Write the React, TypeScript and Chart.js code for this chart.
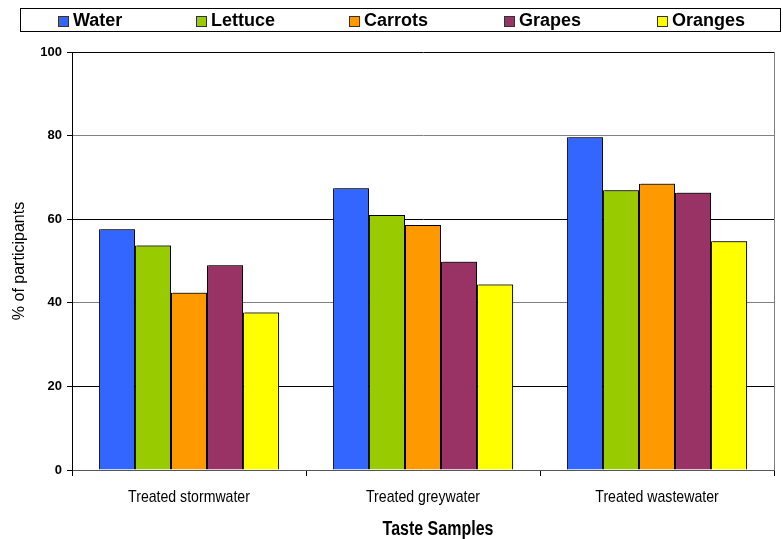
import React, { useEffect, useRef } from "react";
import { Chart, registerables } from "chart.js";

Chart.register(...registerables);

const categories = ["Treated stormwater", "Treated greywater", "Treated wastewater"];
const seriesNames = ["Water", "Lettuce", "Carrots", "Grapes", "Oranges"];
const water = [57.6, 67.4, 79.6];
const lettuce = [53.7, 61.0, 66.9];
const carrots = [42.4, 58.6, 68.5];
const grapes = [49.0, 49.8, 66.3];
const oranges = [37.7, 44.4, 54.7];
const colors = ["#3366FF", "#99CC00", "#FF9900", "#993366", "#FFFF00"];
const yTicks = [0, 20, 40, 60, 80, 100];
const xTitle = "Taste Samples";

const legendXs = [58, 196, 349, 504, 657];

function narrowText(ctx: any, text: string, x: number, y: number, font: string, sx: number) {
  ctx.save();
  ctx.font = font;
  ctx.textAlign = "center";
  ctx.textBaseline = "middle";
  ctx.fillStyle = "#000";
  ctx.translate(x, y);
  ctx.scale(sx, 1);
  ctx.fillText(text, 0, 0);
  ctx.restore();
}

const boxLegend = {
  id: "boxLegend",
  afterDraw(chart: any) {
    const ctx = chart.ctx;
    ctx.save();
    ctx.strokeStyle = "#000";
    ctx.lineWidth = 1;
    ctx.strokeRect(20.5, 8.5, 760, 23);
    ctx.font = "bold 18px 'Liberation Sans', Arial, sans-serif";
    ctx.textBaseline = "middle";
    ctx.textAlign = "left";
    chart.data.datasets.forEach((ds: any, i: number) => {
      const x = legendXs[i];
      ctx.fillStyle = ds.backgroundColor;
      ctx.fillRect(x, 16, 10, 10);
      ctx.strokeStyle = "#333";
      ctx.strokeRect(x + 0.5, 16.5, 10, 10);
      ctx.fillStyle = "#000";
      ctx.fillText(ds.label, x + 15, 21);
    });
    // right border of plot
    const a = chart.chartArea;
    ctx.strokeStyle = "#808080";
    ctx.beginPath();
    ctx.moveTo(a.right + 0.5, a.top);
    ctx.lineTo(a.right + 0.5, a.bottom);
    ctx.stroke();
    ctx.restore();

    // x category labels and axis title, condensed
    const xs = chart.scales.x;
    chart.data.labels.forEach((lab: string, i: number) => {
      narrowText(ctx, lab, xs.getPixelForValue(i), a.bottom + 27, "17px 'Liberation Sans', Arial, sans-serif", 0.83);
    });
    narrowText(ctx, xTitle, (a.left + a.right) / 2 + 15, a.bottom + 59, "bold 20px 'Liberation Sans', Arial, sans-serif", 0.8);
  },
  beforeDatasetsDraw(chart: any) {
    const ctx = chart.ctx;
    ctx.save();
    ctx.shadowColor = "rgba(0,0,0,0.5)";
    ctx.shadowOffsetX = 2;
    ctx.shadowOffsetY = -1;
    ctx.shadowBlur = 0;
  },
  afterDatasetsDraw(chart: any) {
    chart.ctx.restore();
  },
};

export default function App() {
  const ref = useRef<HTMLCanvasElement>(null);
  useEffect(() => {
    const values = [water, lettuce, carrots, grapes, oranges];
    const chart = new Chart(ref.current!, {
      type: "bar",
      data: {
        labels: categories,
        datasets: seriesNames.map((name, i) => ({
          label: name,
          data: values[i],
          backgroundColor: colors[i],
          borderColor: "#000",
          borderWidth: 1,
          categoryPercentage: 0.77,
          barPercentage: 1,
        })),
      },
      options: {
        animation: false,
        responsive: false,
        maintainAspectRatio: false,
        layout: { padding: { top: 52, right: 9, left: 0, bottom: 0 } },
        plugins: { legend: { display: false }, tooltip: { enabled: false } },
        scales: {
          x: {
            afterFit: (s: any) => { s.height = 69; },
            grid: {
              display: true,
              drawOnChartArea: false,
              drawTicks: true,
              tickLength: 6,
              offset: true,
              color: "#000",
            },
            border: { color: "#555", width: 1 },
            ticks: { display: false },
            title: { display: false },
          },
          y: {
            min: 0,
            max: 100,
            afterFit: (s: any) => { s.width = 72; },
            afterBuildTicks: (s: any) => { s.ticks = yTicks.map((v) => ({ value: v })); },
            grid: {
              color: (c: any) => (c.tick && (c.tick.value === 40 || c.tick.value === 80 || c.tick.value === 0) ? "#808080" : "#000"),
              tickColor: "#000",
              tickLength: 5,
            },
            border: { color: "#000", width: 1 },
            ticks: {
              color: "#000",
              padding: 5,
              font: { family: "'Liberation Sans', Arial, sans-serif", size: 13, weight: "bold" },
            },
            title: {
              display: true,
              text: "% of participants",
              color: "#000",
              padding: { top: 10, bottom: 0 },
              font: { family: "'Liberation Sans', Arial, sans-serif", size: 16 },
            },
          },
        },
      },
      plugins: [boxLegend],
    });
    return () => chart.destroy();
  }, []);
  return (
    <canvas
      ref={ref}
      width={783}
      height={539}
      style={{ position: "fixed", left: 0, top: 0, width: 783, height: 539, background: "#fff" }}
    />
  );
}
